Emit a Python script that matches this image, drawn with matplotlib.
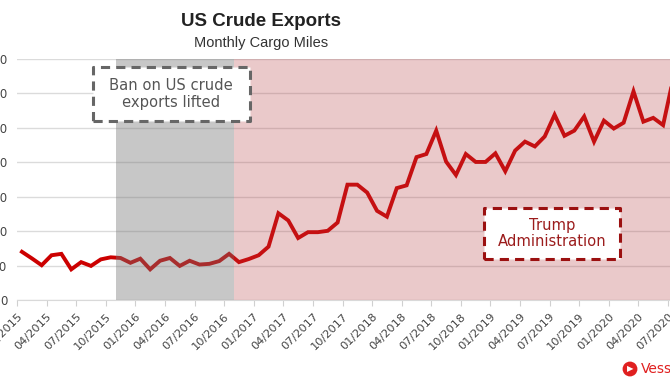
import matplotlib
matplotlib.use("Agg")
import matplotlib.pyplot as plt
import numpy as np
from matplotlib.patches import Rectangle

plt.rcParams['font.family'] = 'DejaVu Sans'

# monthly cargo miles, 01/2015 .. 07/2020 (axis units, labels clipped)
cargo = [1.40, 1.21, 1.01, 1.30, 1.34, 0.89, 1.10, 0.99, 1.18, 1.24,
         1.22, 1.08, 1.20, 0.89, 1.14, 1.22, 0.99, 1.14, 1.03, 1.05,
         1.13, 1.34, 1.10, 1.19, 1.30, 1.55, 2.52, 2.31, 1.80, 1.97,
         1.97, 2.01, 2.25, 3.35, 3.35, 3.12, 2.59, 2.42, 3.25, 3.33,
         4.15, 4.24, 4.92, 4.02, 3.63, 4.24, 4.01, 4.01, 4.26, 3.74,
         4.34, 4.60, 4.46, 4.75, 5.38, 4.77, 4.92, 5.33, 4.60, 5.21,
         4.98, 5.15, 6.06, 5.18, 5.29, 5.08, 6.40]

tick_labels = ['01/2015', '04/2015', '07/2015', '10/2015',
               '01/2016', '04/2016', '07/2016', '10/2016',
               '01/2017', '04/2017', '07/2017', '10/2017',
               '01/2018', '04/2018', '07/2018', '10/2018',
               '01/2019', '04/2019', '07/2019', '10/2019',
               '01/2020', '04/2020', '07/2020']
y_labels = ['0', '100', '200', '300', '400', '500', '600', '700']

ban_start, ban_end = 10, 22   # months since 01/2015
trump_start = 22

RED = '#cc0000'
GREY_TXT = '#444444'


def figure_1():
    fig = plt.figure(figsize=(6.7, 3.8), dpi=100)
    ax = fig.add_axes([17/670, 80/380, 653/670, 241/380])

    x = np.arange(len(cargo)) + 0.5
    ax.plot(x, cargo, color=RED, lw=2.8, solid_joinstyle='miter', zorder=2)

    # shaded periods drawn over the line (semi transparent)
    ax.axvspan(ban_start, ban_end, color=(0.45, 0.45, 0.45), alpha=0.40,
               lw=0, zorder=3)
    ax.axvspan(trump_start, 80, color=(0.71, 0.24, 0.26), alpha=0.28,
               lw=0, zorder=3)

    ax.set_xlim(0, 66.2)
    ax.set_ylim(0, 7)
    ax.set_yticks(range(len(y_labels)))
    ax.set_yticklabels(y_labels)
    ax.set_xticks(np.arange(len(tick_labels)) * 3)
    ax.set_xticklabels(tick_labels, rotation=45, ha='right',
                       rotation_mode='anchor')

    ax.grid(axis='y', color='#8a8a8a', alpha=0.3, lw=1, zorder=1)
    ax.set_axisbelow(True)
    for s in ['top', 'right', 'left']:
        ax.spines[s].set_visible(False)
    ax.spines['bottom'].set_color('#d9d9d9')
    ax.tick_params(axis='y', length=0, pad=7, labelsize=8.5,
                   labelcolor=GREY_TXT)
    ax.tick_params(axis='x', length=4, color='#d0d0d0', pad=4,
                   labelsize=8.2, labelcolor=GREY_TXT)

    plot_annotation(ax)

    fig.text(261/670, 1 - 22/380, 'US Crude Exports', ha='center',
             va='center', fontsize=13.5, fontweight='bold', color='#222222',
             family=['Liberation Sans Narrow', 'Liberation Sans'])
    fig.text(261/670, 1 - 43/380, 'Monthly Cargo Miles', ha='center',
             va='center', fontsize=10.5, color='#333333',
             family=['Liberation Sans Narrow', 'Liberation Sans'])

    # brand mark bottom right
    fig.text(630/670, 1 - 369/380, '\u25b6', ha='center', va='center',
             fontsize=6, color='white', zorder=6,
             bbox=dict(boxstyle='circle,pad=0.35', fc='#e02020', ec='none'))
    fig.text(641/670, 1 - 369/380, 'Vessel', ha='left', va='center',
             fontsize=10, color='#e02020')

    fig.savefig('out.png', dpi=100)


def plot_annotation(ax):
    ban = Rectangle((0.1164, 0.7427), 0.2404, 0.2241, transform=ax.transAxes,
                    fc='white', ec='#666666', lw=2.2, ls=(0, (3, 2)),
                    joinstyle='round', zorder=5)
    ax.add_patch(ban)
    ax.text(0.2358, 0.8548, 'Ban on US crude\nexports lifted',
            transform=ax.transAxes, ha='center', va='center', fontsize=10.6,
            color='#555555', linespacing=1.1, zorder=6)

    trump = Rectangle((0.7152, 0.1701), 0.2082, 0.2116, transform=ax.transAxes,
                      fc='white', ec='#9b1010', lw=2.2, ls=(0, (3, 2)),
                      joinstyle='round', zorder=5)
    ax.add_patch(trump)
    ax.text(0.8193, 0.2759, 'Trump\nAdministration',
            transform=ax.transAxes, ha='center', va='center', fontsize=10.6,
            color='#9b1c1c', linespacing=1.1, zorder=6)


def main():
    figure_1()

if __name__ == '__main__':
    main()
